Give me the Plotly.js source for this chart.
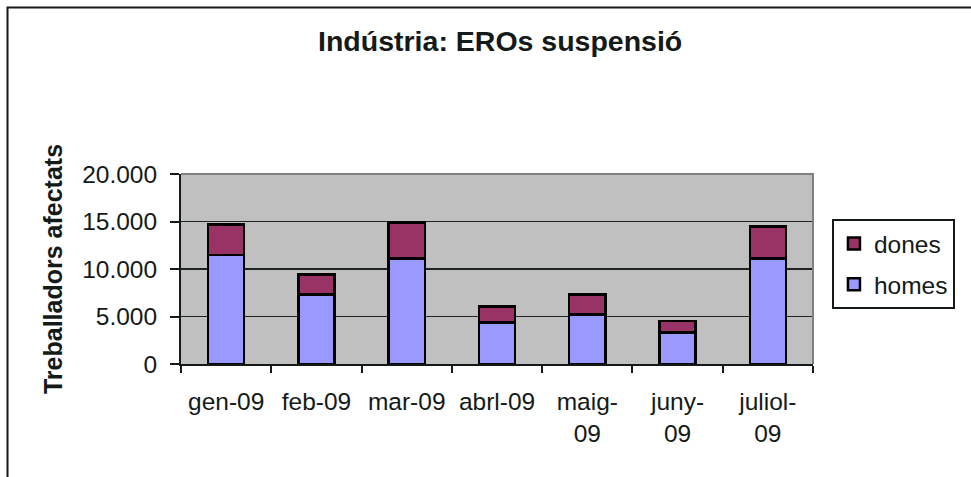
<!DOCTYPE html>
<html>
<head>
<meta charset="utf-8">
<script src="https://cdn.plot.ly/plotly-3.0.1.min.js"></script>
<style>
  html, body { margin: 0; padding: 0; background: #ffffff; }
  #chart { width: 971px; height: 477px; }
</style>
</head>
<body>
<div id="chart"></div>
<script>
const categories = ["gen-09", "feb-09", "mar-09", "abrl-09", "maig-09", "juny-09", "juliol-09"];
const tickLabels = ["gen-09", "feb-09", "mar-09", "abrl-09", "maig-<br>09", "juny-<br>09", "juliol-<br>09"];
const homes = [11500, 7300, 11100, 4350, 5230, 3300, 11100];
const dones = [3200, 2100, 3800, 1700, 2100, 1250, 3400];
const yTicks = [0, 5000, 10000, 15000, 20000];

const FONT = '"Liberation Sans", Arial, sans-serif';
const INK = '#141a17';

const traces = [
  {
    type: 'bar', name: 'homes', x: categories, y: homes,
    legendgroup: 'h', legendrank: 2,
    marker: { color: '#9999ff', line: { color: '#000000', width: 2.5 } },
    hoverinfo: 'skip'
  },
  {
    type: 'bar', name: 'dones', x: categories, y: dones,
    legendgroup: 'd', legendrank: 1,
    marker: { color: '#993366', line: { color: '#000000', width: 2.5 } },
    hoverinfo: 'skip'
  }
];

const layout = {
  width: 971, height: 477,
  margin: { l: 181, r: 158, t: 174, b: 113, pad: 0 },
  paper_bgcolor: '#ffffff',
  plot_bgcolor: '#c0c0c0',
  barmode: 'stack',
  bargap: 0.6,
  separators: ',.',
  font: { family: FONT, color: INK, size: 24.5 },
  title: {
    text: 'Indústria: EROs suspensió',
    font: { family: FONT, size: 28.5, color: INK, weight: 'bold' },
    xref: 'paper', x: 0.505, xanchor: 'center',
    yref: 'container', y: 0.915, yanchor: 'middle'
  },
  xaxis: {
    type: 'category',
    tickmode: 'array', tickvals: categories, ticktext: tickLabels,
    tickson: 'boundaries',
    ticks: 'outside', ticklen: 7, tickwidth: 2, tickcolor: INK,
    showline: true, linecolor: INK, linewidth: 2,
    showgrid: false, zeroline: false,
    tickfont: { family: FONT, size: 24.5, color: INK },
    ticklabelstandoff: 15,
    fixedrange: true
  },
  yaxis: {
    range: [0, 20000],
    tickmode: 'array', tickvals: yTicks,
    tickformat: ',.0f',
    ticks: 'outside', ticklen: 9, tickwidth: 2, tickcolor: INK,
    showline: true, linecolor: INK, linewidth: 2,
    showgrid: true, gridcolor: '#1e2420', gridwidth: 1.5,
    zeroline: false,
    tickfont: { family: FONT, size: 24.5, color: INK },
    ticklabelstandoff: 8,
    title: {
      text: 'Treballadors afectats',
      font: { family: FONT, size: 25, color: INK, weight: 'bold' },
      standoff: 12
    },
    fixedrange: true
  },
  legend: {
    x: 1.03, xanchor: 'left', xref: 'paper',
    y: 0.763, yanchor: 'top', yref: 'paper',
    traceorder: 'grouped',
    tracegroupgap: 6,
    entrywidth: 76, entrywidthmode: 'pixels',
    bgcolor: '#ffffff', bordercolor: INK, borderwidth: 2,
    font: { family: FONT, size: 24.5, color: INK }
  },
  shapes: [
    {
      type: 'path', xref: 'paper', yref: 'paper', layer: 'above',
      path: 'M 0,1 L 1,1 L 1,0',
      line: { color: '#808080', width: 2 }
    },
    {
      type: 'path', xref: 'paper', yref: 'paper', layer: 'above',
      path: 'M -0.2745,-0.7 L -0.2745,1.876 L 1.3,1.876',
      line: { color: INK, width: 2 }
    }
  ],
  showlegend: true
};

Plotly.newPlot('chart', traces, layout, { displayModeBar: false, staticPlot: true });
</script>
</body>
</html>
